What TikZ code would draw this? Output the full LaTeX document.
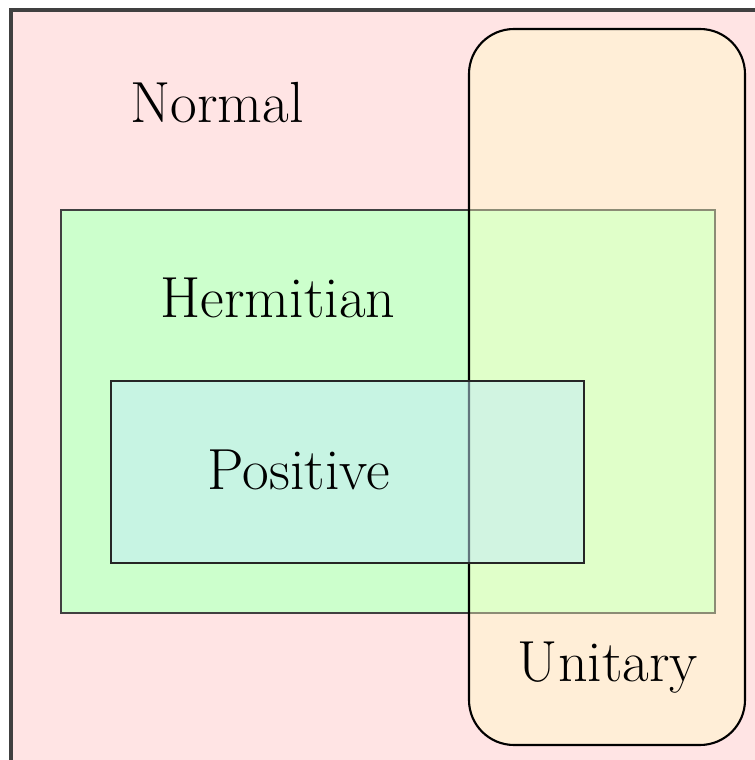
\documentclass[tikz,border=0pt]{standalone}
\usepackage{tikz}

\definecolor{normalFill}{RGB}{255,228,228}
\definecolor{hermFill}{RGB}{204,255,204}
\definecolor{unitFill}{RGB}{255,255,197}
\definecolor{posFill}{RGB}{195,235,250}
\definecolor{frameGray}{RGB}{64,64,64}

\newcommand{\outerLineWidth}{2.4pt}
\newcommand{\setLineWidth}{1.2pt}
\newcommand{\labelSize}{\fontsize{33}{40}\selectfont}

\newcommand{\hermLeftX}{1.22}
\newcommand{\hermRightX}{14.3}
\newcommand{\hermBottomY}{2.94}
\newcommand{\hermTopY}{11.0}
\newcommand{\posLeftX}{2.22}
\newcommand{\posRightX}{11.68}
\newcommand{\posBottomY}{3.94}
\newcommand{\posTopY}{7.58}
\newcommand{\unitLeftX}{9.38}
\newcommand{\unitRightX}{14.9}
\newcommand{\unitBottomY}{0.30}
\newcommand{\unitTopY}{14.62}

\tikzset{
  setlabel/.style={font=\labelSize, inner sep=0pt}
}

\begin{document}
\begin{tikzpicture}
        \useasboundingbox (0,0) rectangle (15.1,15.2);
        \clip (0,0) rectangle (15.1,15.2);

        % Draw normal matrices (the whole frame)
        \draw [line width=\outerLineWidth, frameGray, fill=normalFill] (0.22,-0.5) rectangle (15.6,15.0);

        % Draw hermitian box
        \draw [line width=\setLineWidth, black!75, fill=hermFill] (\hermLeftX,\hermBottomY) rectangle (\hermRightX,\hermTopY);

        % Draw unitary box on top, see-through
        \draw [line width=\setLineWidth, black, fill=unitFill, fill opacity=0.4, rounded corners=0.9cm] (\unitLeftX,\unitBottomY) rectangle (\unitRightX,\unitTopY);

        % Draw positive box
        \draw [line width=\setLineWidth, black!85, fill=posFill, fill opacity=0.5] (\posLeftX,\posBottomY) rectangle (\posRightX,\posTopY);

        % Labels
        \node[setlabel] (normal) at (4.34,13.14) {Normal};
        \node[setlabel] (hermitian) at (5.56,9.24) {Hermitian};
        \node[setlabel] (positive) at (5.98,5.8) {Positive};
        \node[setlabel] (unitary) at (12.16,1.84) {Unitary};
    \end{tikzpicture}
\end{document}
